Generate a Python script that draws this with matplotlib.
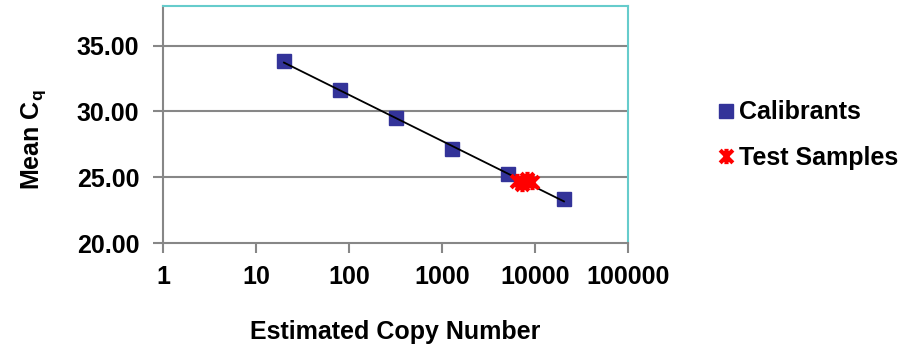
import numpy as np
import matplotlib
matplotlib.use("Agg")
import matplotlib.pyplot as plt
from matplotlib.path import Path

plt.rcParams['font.family'] = ['Liberation Sans', 'DejaVu Sans']
plt.rcParams['font.weight'] = 'bold'
plt.rcParams['mathtext.fontset'] = 'custom'
plt.rcParams['mathtext.rm'] = 'Liberation Sans:bold'
plt.rcParams['mathtext.bf'] = 'Liberation Sans:bold'
plt.rcParams['mathtext.it'] = 'Liberation Sans:bold'

# Data
calib_copies = [20, 80, 320, 1280, 5120, 20480]
calib_cq = [33.79, 31.62, 29.47, 27.14, 25.23, 23.33]
test_copies = [6400, 7250, 8200, 9300]
test_cq = [24.70, 24.50, 24.85, 24.60]
x_ticks = [1, 10, 100, 1000, 10000, 100000]
x_ticklabels = ['1', '10', '100', '1000', '10000', '100000']
y_ticks = [20, 25, 30, 35]
y_ticklabels = ['20.00', '25.00', '30.00', '35.00']

navy = '#333399'
grey = '#878787'
teal = '#66CCCC'
FS = 18

fig = plt.figure(figsize=(9.14, 3.49), dpi=100)
ax = fig.add_axes([163/914, 1-243/349, (628-163)/914, (243-6)/349])

ax.set_xscale('log')
ax.set_xlim(1, 100000)
ax.set_ylim(20, 38)

for y in y_ticks[1:]:
    ax.axhline(y, color=grey, lw=1.5, zorder=1)

# trend line
lx = np.log10(calib_copies)
slope, icpt = np.polyfit(lx, calib_cq, 1)
xs = np.array([calib_copies[0], calib_copies[-1]])
ax.plot(xs, slope*np.log10(xs)+icpt, color='black', lw=1.3, zorder=3)

ax.plot(calib_copies, calib_cq, linestyle='none', marker='s', ms=10,
        color=navy, mec=navy, zorder=2, label='Calibrants')

star = Path([(-1, -1), (1, 1), (-1, 1), (1, -1), (0, -1.2), (0, 1.2)],
            [Path.MOVETO, Path.LINETO, Path.MOVETO, Path.LINETO, Path.MOVETO, Path.LINETO])
ax.plot(test_copies, test_cq, linestyle='none', marker=star, ms=11, mew=3,
        color='red', mec='red', zorder=4, label='Test Samples')

ax.set_xticks(x_ticks)
ax.set_xticklabels(x_ticklabels)
ax.xaxis.set_minor_locator(matplotlib.ticker.NullLocator())
ax.set_yticks(y_ticks)
ax.set_yticklabels(y_ticklabels)
ax.tick_params(axis='both', which='major', labelsize=FS, color=grey, width=1.5,
               length=7, direction='out')
ax.tick_params(axis='y', pad=10)
ax.tick_params(axis='x', pad=9)

for s in ['left', 'bottom']:
    ax.spines[s].set_color(grey)
    ax.spines[s].set_linewidth(1.5)
for s in ['top', 'right']:
    ax.spines[s].set_color(teal)
    ax.spines[s].set_linewidth(1.5)

ax.set_xlabel('Estimated Copy Number', fontsize=FS, fontweight='bold', labelpad=22)
ax.set_ylabel(r'Mean C$_{\mathbf{q}}$', fontsize=FS, fontweight='bold')
ax.yaxis.set_label_coords(-0.248, 0.435)

leg = fig.legend(loc='center left', bbox_to_anchor=(708/914, 1-135/349), frameon=False,
                 fontsize=FS, handlelength=0.6, handletextpad=0.25, labelspacing=0.85,
                 borderaxespad=0)

fig.savefig('out.png', dpi=100)
